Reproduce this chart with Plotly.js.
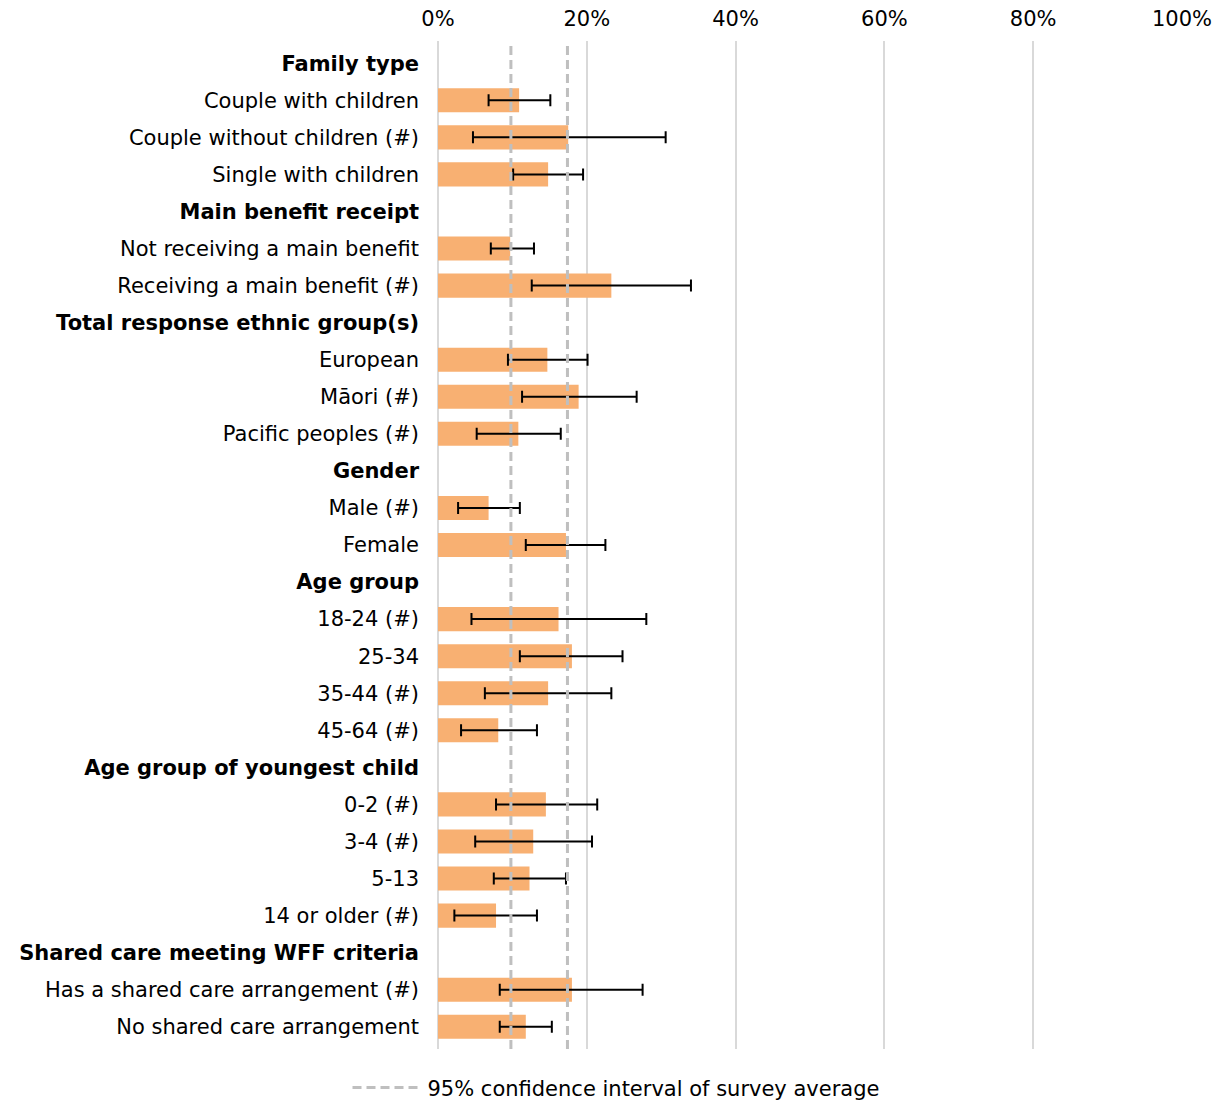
<!DOCTYPE html>
<html><head><meta charset="utf-8">
<script src="https://cdn.plot.ly/plotly-3.0.1.min.js"></script>
<style>body{margin:0;background:#fff}</style>
</head><body><div id="chart" style="width:1232px;height:1101px"></div>
<script>
const labels = [
  "Family type", "Couple with children", "Couple without children (#)", "Single with children",
  "Main benefit receipt", "Not receiving a main benefit", "Receiving a main benefit (#)",
  "Total response ethnic group(s)", "European", "Māori (#)", "Pacific peoples (#)",
  "Gender", "Male (#)", "Female",
  "Age group", "18-24 (#)", "25-34", "35-44 (#)", "45-64 (#)",
  "Age group of youngest child", "0-2 (#)", "3-4 (#)", "5-13", "14 or older (#)",
  "Shared care meeting WFF criteria", "Has a shared care arrangement (#)", "No shared care arrangement"
];
const isHeader = [
  true, false, false, false,
  true, false, false,
  true, false, false, false,
  true, false, false,
  true, false, false, false, false,
  true, false, false, false, false,
  true, false, false
];
const values = [
  null, 10.9, 17.5, 14.8,
  null, 9.7, 23.3,
  null, 14.7, 18.9, 10.8,
  null, 6.8, 17.2,
  null, 16.2, 18.0, 14.8, 8.1,
  null, 14.5, 12.8, 12.3, 7.8,
  null, 18.0, 11.8
];
const ciLow = [
  null, 6.8, 4.7, 10.1,
  null, 7.1, 12.6,
  null, 9.4, 11.3, 5.2,
  null, 2.7, 11.8,
  null, 4.5, 11.0, 6.3, 3.1,
  null, 7.8, 5.0, 7.5, 2.2,
  null, 8.3, 8.3
];
const ciHigh = [
  null, 15.1, 30.6, 19.5,
  null, 12.9, 34.0,
  null, 20.1, 26.7, 16.5,
  null, 11.0, 22.5,
  null, 28.0, 24.8, 23.3, 13.3,
  null, 21.4, 20.7, 17.2, 13.3,
  null, 27.5, 15.3
];
const surveyCiLow = 9.8;
const surveyCiHigh = 17.4;
const surveyCiName = "95% confidence interval of survey average";
const xTickVals = [0, 20, 40, 60, 80, 100];
const xTickText = ["0%", "20%", "40%", "60%", "80%", "100%"];

const rows = labels.map((_, i) => i);
const tickText = labels.map((l, i) => isHeader[i] ? "<b>" + l + "</b>" : l);
const errPlus = values.map((v, i) => v == null ? null : ciHigh[i] - v);
const errMinus = values.map((v, i) => v == null ? null : v - ciLow[i]);

const bars = {
  type: "bar", orientation: "h",
  x: values, y: rows,
  marker: {color: "#F8B072"},
  error_x: {type: "data", symmetric: false, array: errPlus, arrayminus: errMinus,
            color: "#000000", thickness: 2, width: 6},
  showlegend: false, hoverinfo: "skip"
};
const legendTrace = {
  type: "scatter", mode: "lines", x: [null], y: [null],
  name: surveyCiName,
  line: {color: "#BFBFBF", width: 3, dash: "9px,5px"},
  showlegend: true
};

const layout = {
  width: 1232, height: 1101,
  margin: {l: 438, r: 50, t: 41, b: 52},
  paper_bgcolor: "#ffffff", plot_bgcolor: "#ffffff",
  font: {family: "DejaVu Sans, Verdana, sans-serif", size: 21, color: "#000000"},
  bargap: 0.35,
  xaxis: {
    range: [0, 100], side: "top", tickvals: xTickVals, ticktext: xTickText, tickmode: "array",
    showgrid: true, gridcolor: "#D9D9D9", gridwidth: 2,
    zeroline: true, zerolinecolor: "#D9D9D9", zerolinewidth: 2,
    showline: false, ticks: "", ticklabelstandoff: 10, tickfont: {size: 21}, fixedrange: true
  },
  yaxis: {
    range: [26.6, -0.6], tickvals: rows, ticktext: tickText, tickmode: "array",
    showgrid: false, zeroline: false, showline: false, ticks: "",
    ticklabelstandoff: 18, tickfont: {size: 21}, fixedrange: true
  },
  shapes: [surveyCiLow, surveyCiHigh].map(v => ({
    type: "line", xref: "x", yref: "paper", x0: v, x1: v, y0: 0, y1: 1,
    line: {color: "#BFBFBF", width: 3, dash: "9px,5px"}
  })),
  showlegend: true,
  legend: {
    orientation: "h", xref: "container", yref: "container",
    x: 0.5, xanchor: "center", y: 0.012, yanchor: "middle",
    itemwidth: 70,
    font: {size: 21}, bgcolor: "rgba(0,0,0,0)"
  }
};

Plotly.newPlot("chart", [bars, legendTrace], layout, {displayModeBar: false, staticPlot: true});
</script>
</body></html>
